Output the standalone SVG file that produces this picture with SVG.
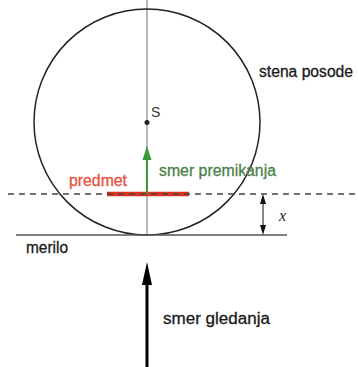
<svg xmlns="http://www.w3.org/2000/svg" width="358" height="367" viewBox="0 0 358 367">
<style>
.t{font-family:"Liberation Sans",Arial,sans-serif;font-size:16px;fill:#1a1a1a;stroke:#1a1a1a;stroke-width:0.3}
.thin{stroke:#888;stroke-width:1.2;fill:none}
</style>
<rect width="358" height="367" fill="#fff"/>
<g id="vessel">
<line x1="147" y1="0" x2="147" y2="235" class="thin"/>
<circle cx="147" cy="122" r="113" fill="none" stroke="#222" stroke-width="1.5"/>
<text class="t" x="259" y="77" textLength="94" lengthAdjust="spacingAndGlyphs">stena posode</text>
</g>
<g id="center">
<circle cx="147" cy="122.5" r="2.5" fill="#222"/>
<text x="151" y="117" font-family="Liberation Sans, Arial, sans-serif" font-size="14" fill="#333">S</text>
</g>
<g id="object">
<line x1="107" y1="194" x2="189" y2="194" stroke="#e0301e" stroke-width="4.5"/>
<text class="t" x="69" y="186" style="fill:#e8503a;stroke:#e8503a" textLength="58" lengthAdjust="spacingAndGlyphs">predmet</text>
</g>
<g id="scale">
<line x1="16" y1="235" x2="287" y2="235" stroke="#555" stroke-width="1.5"/>
<text class="t" x="26" y="253" textLength="42" lengthAdjust="spacingAndGlyphs">merilo</text>
</g>
<g id="connectors">
<line x1="8" y1="194" x2="358" y2="194" stroke="#444" stroke-width="1.3" stroke-dasharray="6 5"/>
<line x1="147" y1="194" x2="147" y2="158" stroke="#3a9a3a" stroke-width="2"/>
<path d="M147,146 L151.5,160 L142.5,160 Z" fill="#3a9a3a"/>
<line x1="147" y1="367" x2="147" y2="280" stroke="#000" stroke-width="3"/>
<path d="M147,262 L152,285 L142,285 Z" fill="#000"/>
<line x1="263" y1="202" x2="263" y2="227" stroke="#111" stroke-width="1"/>
<path d="M263,194 L266,204 L260,204 Z" fill="#111"/>
<path d="M263,235 L266,225 L260,225 Z" fill="#111"/>
</g>
<g id="labels">
<text class="t" x="159" y="176" style="fill:#4a7f4a;stroke:#4a7f4a" textLength="117" lengthAdjust="spacingAndGlyphs">smer premikanja</text>
<text x="279" y="221" font-family="Liberation Serif, 'Times New Roman', serif" font-style="italic" font-size="16" fill="#222">x</text>
<text class="t" x="163" y="324" textLength="107" lengthAdjust="spacingAndGlyphs">smer gledanja</text>
</g>
</svg>
